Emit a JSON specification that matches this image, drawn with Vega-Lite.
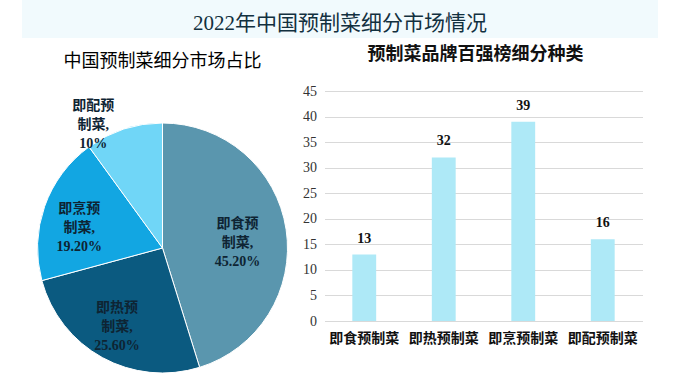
{
  "$schema": "https://vega.github.io/schema/vega-lite/v6.json",
  "padding": {"left": 22, "top": 0, "right": 18, "bottom": 0},
  "background": "white",
  "config": {"view": {"stroke": null}, "font": "Liberation Serif, Noto Sans CJK SC"},
  "spacing": 8,
  "center": true,
  "vconcat": [
    {
      "width": 636,
      "height": 38,
      "data": {"values": [{"t": "2022年中国预制菜细分市场情况"}]},
      "layer": [
        {"mark": {"type": "rect", "color": "#f1fafd"}, "encoding": {}},
        {"mark": {"type": "text", "fontSize": 21, "color": "#12303f", "font": "Liberation Serif, Noto Sans CJK SC", "dy": 5}, "encoding": {"text": {"field": "t"}}}
      ]
    },
    {
      "spacing": 13,
      "hconcat": [
        {
          "width": 250,
          "height": 314,
          "title": {"text": "中国预制菜细分市场占比", "fontSize": 18, "fontWeight": "normal", "color": "#000000", "offset": 20, "font": "Liberation Serif, Noto Sans CJK SC"},
          "data": {"values": [
            {"cat": "即食预制菜", "share": 45.2, "pct": "45.20%"},
            {"cat": "即热预制菜", "share": 25.6, "pct": "25.60%"},
            {"cat": "即烹预制菜", "share": 19.2, "pct": "19.20%"},
            {"cat": "即配预制菜", "share": 10, "pct": "10%"}
          ]},
          "transform": [
            {"window": [{"op": "row_number", "as": "i"}]},
            {"stack": "share", "groupby": [], "sort": [{"field": "i"}], "as": ["s0", "s1"]},
            {"calculate": "(datum.s0 + datum.s1) / 2", "as": "mid"},
            {"calculate": "[substring(datum.cat, 0, 3), substring(datum.cat, 3) + ',', datum.pct]", "as": "label"}
          ],
          "layer": [
            {
              "mark": {"type": "arc", "outerRadius": 125, "stroke": "white", "strokeWidth": 1},
              "encoding": {
                "theta": {"field": "s0", "type": "quantitative", "scale": {"domain": [0, 100]}},
                "theta2": {"field": "s1"},
                "color": {"field": "cat", "type": "nominal", "legend": null,
                  "scale": {"domain": ["即食预制菜", "即热预制菜", "即烹预制菜", "即配预制菜"], "range": ["#5a96ae", "#0b5a80", "#12a6e2", "#70d6f7"]}}
              }
            },
            {
              "transform": [{"filter": "datum.cat !== '即配预制菜'"}],
              "mark": {"type": "text", "radius": 82, "dx": -6, "dy": -12, "fontSize": 14, "fontWeight": "bold", "color": "#0e2433", "lineHeight": 19},
              "encoding": {
                "theta": {"field": "mid", "type": "quantitative", "scale": {"domain": [0, 100]}},
                "text": {"field": "label"}
              }
            },
            {
              "transform": [{"filter": "datum.cat === '即配预制菜'"}],
              "mark": {"type": "text", "radius": 143, "dx": -25, "dy": -6, "fontSize": 14, "fontWeight": "bold", "color": "#0e2433", "lineHeight": 19},
              "encoding": {
                "theta": {"field": "mid", "type": "quantitative", "scale": {"domain": [0, 100]}},
                "text": {"field": "label"}
              }
            }
          ]
        },
        {
          "width": 318,
          "height": 230,
          "title": {"text": "预制菜品牌百强榜细分种类", "fontSize": 18, "fontWeight": "bold", "color": "#111111", "offset": 20, "dx": -8, "font": "Liberation Serif, Noto Sans CJK SC"},
          "data": {"values": [
            {"cat": "即食预制菜", "n": 13},
            {"cat": "即热预制菜", "n": 32},
            {"cat": "即烹预制菜", "n": 39},
            {"cat": "即配预制菜", "n": 16}
          ]},
          "encoding": {
            "x": {"field": "cat", "type": "nominal", "sort": null,
              "scale": {"paddingInner": 0.7, "paddingOuter": 0.35},
              "axis": {"title": null, "labelAngle": 0, "domain": false, "ticks": false, "labelFontSize": 14, "labelFontWeight": "bold", "labelColor": "#111111", "labelPadding": 10}},
            "y": {"field": "n", "type": "quantitative", "scale": {"domain": [0, 45]},
              "axis": {"title": null, "values": [0, 5, 10, 15, 20, 25, 30, 35, 40, 45], "domain": false, "ticks": false, "gridColor": "#d9d9d9", "labelFontSize": 14, "labelColor": "#333333", "labelPadding": 8}}
          },
          "layer": [
            {"mark": {"type": "bar", "color": "#aee9f7"}},
            {"mark": {"type": "text", "dy": -9, "baseline": "bottom", "fontSize": 14, "fontWeight": "bold", "color": "#111111"}, "encoding": {"text": {"field": "n"}}}
          ]
        }
      ]
    }
  ]
}
